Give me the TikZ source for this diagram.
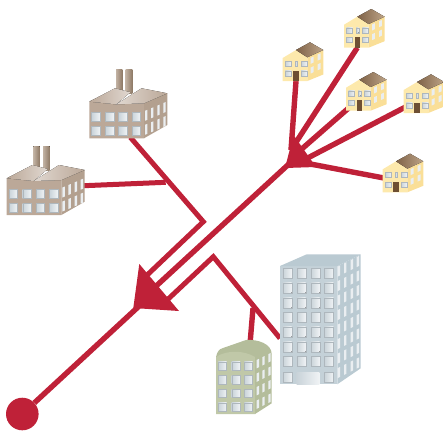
\documentclass[tikz,border=0pt]{standalone}
\usetikzlibrary{backgrounds}
\definecolor{wirered}{HTML}{BF2138}
\definecolor{housewall}{HTML}{FDE9AC}
\definecolor{houseside}{HTML}{FADF98}
\definecolor{roofdark}{HTML}{7F6247}
\definecolor{rooflight}{HTML}{BDA488}
\definecolor{doorbrown}{HTML}{6E4F33}
\definecolor{factorywall}{HTML}{BBA898}
\definecolor{factoryside}{HTML}{B3A08F}
\definecolor{chimneydark}{HTML}{8F7A66}
\definecolor{chimneylight}{HTML}{C2B2A3}
\definecolor{towerwall}{HTML}{C4D1D8}
\definecolor{towerside}{HTML}{BACAD2}
\definecolor{greenwall}{HTML}{C0C8A8}
\definecolor{greenside}{HTML}{B4BD9B}
\definecolor{panedark}{HTML}{C9D3D9}
\definecolor{panelight}{HTML}{F0F3F5}
\definecolor{paneedge}{HTML}{AEB7BD}
\tikzset{
  wire/.style={draw=wirered, line width=5.4pt},
  thinwire/.style={draw=wirered, line width=5pt, line join=miter},
  windowpane/.style={left color=panedark, right color=panelight, draw=paneedge, line width=.25pt},
  sidepane/.style={fill=panelight!85!panedark},
  house/.pic={
    \coordinate (-door) at (0,0);
    \coordinate (-mid) at (0,-12);
    \fill[housewall] (-13.3,0) -- (-13.3,-23) -- (0,-31) -- (11.3,-23.7) -- (11.3,0) -- cycle;
    \fill[houseside] (11.3,0) -- (11.3,-23.7) -- (27.3,-31) -- (27.3,-6.5) -- cycle;
    \fill[left color=roofdark, right color=rooflight] (0,-31) -- (14,-38.7) -- (27.3,-31) -- (11.3,-23.7) -- cycle;
    \foreach \wx in {-10.7,5} \foreach \wy in {-20,-10.3}
      \fill[windowpane] (\wx,\wy) rectangle ++(6,5);
    \fill[windowpane] (-1,-20) rectangle ++(2.4,5);
    \foreach \wx/\wo in {14.7/1.5,21.7/4.7} \foreach \wy in {-21.7,-12}
      \fill[sidepane] (\wx,\wy-\wo) -- ++(2.8,-1.3) -- ++(0,6) -- ++(-2.8,1.3) -- cycle;
    \fill[doorbrown] (-2.7,0) rectangle (2.7,-10.5);
  },
  factory/.pic={
    \coordinate (-foot) at (41,-1);
    \coordinate (-side) at (70,-29);
    \fill[left color=chimneylight, right color=chimneydark] (26.7,-69) rectangle (33,-45);
    \fill[left color=chimneylight, right color=chimneydark] (36.3,-69) rectangle (43,-45);
    \fill[factorywall] (0,0) -- (54.7,0) -- (54.7,-35) -- (27,-34) -- (0,-36.7) -- cycle;
    \fill[factoryside] (54.7,0) -- (78,-13.3) -- (78,-45) -- (54.7,-35) -- cycle;
    \fill[left color=factorywall, right color=factorywall!45!white] (0,-36.7) -- (25.7,-50) -- (41,-46) -- (27,-34) -- cycle;
    \fill[left color=factorywall!45!white, right color=factorywall] (27,-34) -- (52.3,-50) -- (78,-45) -- (54.7,-35) -- cycle;
    \foreach \wx in {2.3,16,29.3,42.7} \foreach \wy in {-25.7,-11.7}
      \fill[windowpane] (\wx,\wy) rectangle ++(8.5,9);
    \foreach \wx/\wo in {55.7/.5,61.7/3,68/5.7,74/8.3} \foreach \wy in {-27,-13}
      \fill[sidepane] (\wx,\wy-\wo) -- ++(2.4,-1) -- ++(0,10) -- ++(-2.4,1) -- cycle;
  },
  tower/.pic={
    \coordinate (-wall) at (0,-46);
    \fill[towerside] (57.3,0) -- (80.7,-16) -- (80.7,-130) -- (57.3,-118.3) -- cycle;
    \fill[towerwall] (0,0) rectangle (57.3,-118.3);
    \fill[towerside] (0,-118.3) -- (26.7,-130) -- (80.7,-130) -- (57.3,-118.3) -- cycle;
    \foreach \wx in {2.7,16.7,30.7,44.3} \foreach \wy in {0,...,6}
      \fill[windowpane] (\wx,-116+14.67*\wy) rectangle ++(9,10);
    \foreach \wx in {2.7,44.3}
      \fill[windowpane] (\wx,-113.3+14.67*6.9) rectangle ++(9,10);
    \fill[left color=panedark, right color=panelight] (16.7,0) rectangle (39.3,-11.7);
    \foreach \wx/\wo in {57.7/0,64/3.2,70.7/6.5,76.7/9.5} \foreach \wy in {0,...,7}
      \fill[sidepane] (\wx,-117.7+14.5*\wy-\wo) -- ++(2.4,-1.2) -- ++(0,10) -- ++(-2.4,1.2) -- cycle;
  },
  greenblock/.pic={
    \coordinate (-top) at (34,-70);
    \fill[greenside] (0,-57) .. controls (1,-62) and (3,-65) .. (7,-66) -- (30,-74) .. controls (42,-75) and (55.7,-70) .. (55.7,-60) -- (39,-52) -- cycle;
    \fill[greenwall] (0,0) -- (39,0) -- (39,-57) .. controls (28,-64) and (10,-64) .. (0,-57) -- cycle;
    \fill[greenside] (39,0) -- (55.7,-10.7) -- (55.7,-60) -- (39,-57) -- cycle;
    \foreach \wx in {2.3,15.7,28.3} \foreach \wy in {0,...,3}
      \fill[windowpane] (\wx,-52.3+13.7*\wy) rectangle ++(8.3,8.3);
    \foreach \wx/\wo in {40.7/0,46.3/2.8,52.3/5.8} \foreach \wy in {0,...,3}
      \fill[sidepane] (\wx,-54+13.5*\wy-\wo) -- ++(2.4,-1.2) -- ++(0,8.3) -- ++(-2.4,1.2) -- cycle;
  },
}
\begin{document}
\begin{tikzpicture}[x=1pt,y=-1pt]
  \useasboundingbox (0,0) rectangle (443,432);
  % houses, top right
  \pic (house a) at (296,81) {house};
  \pic (house b) at (357.3,47.7) {house};
  \pic (house c) at (359.3,110.7) {house};
  \pic (house d) at (417,113) {house};
  \pic (house e) at (396,192.3) {house};
  % factories and the two big blocks
  \pic (factory a) at (89.3,138.3) {factory};
  \pic (factory b) at (6.7,215) {factory};
  \pic (tower) at (280,384.3) {tower};
  \pic (block) at (216,414) {greenblock};

  \node [circle, fill=wirered, minimum size=32.6pt, inner sep=0pt] (terminal) at (22.3,414) {};

  % where the wires meet
  \coordinate (hub a) at (291,150);
  \coordinate (hub b) at (296,154);
  \coordinate (hub c) at (300,162);
  \coordinate (hub foot) at (290,163);
  \coordinate (head mid) at (150,296);
  \coordinate (upper bend) at (203.3,221.7);
  \coordinate (upper tee) at (165.7,182.3);
  \coordinate (upper end) at (144,278);
  \coordinate (middle end) at (154,288);
  \coordinate (lower bend) at (213.3,256.7);
  \coordinate (lower tee) at (253,308);
  \coordinate (lower end) at (165,302);

  \begin{scope}[on background layer]
    \draw [wire] (house a-door) -- (hub a);
    \draw [wire] (house b-door) -- (hub a);
    \draw [wire] (house c-mid) -- (hub b);
    \draw [wire] (house d-mid) -- (hub c);
    \draw [wire] (house e-mid) -- (hub c);
    \fill [wirered] (293.5,135) -- (285,168) -- (316,167) -- cycle;
    \draw [wire] (hub foot) -- (middle end);
    \draw [thinwire] (factory a-foot) -- (upper bend) -- (upper end);
    \draw [thinwire] (factory b-side) -- (upper tee);
    \draw [thinwire] (tower-wall) -- (lower bend) -- (lower end);
    \draw [wire] (lower tee) -- (block-top);
    \fill [wirered] (139.3,264) -- (133.3,308) -- (179,311) -- cycle;
    \draw [wire] (head mid) -- (terminal);
  \end{scope}
\end{tikzpicture}
\end{document}
